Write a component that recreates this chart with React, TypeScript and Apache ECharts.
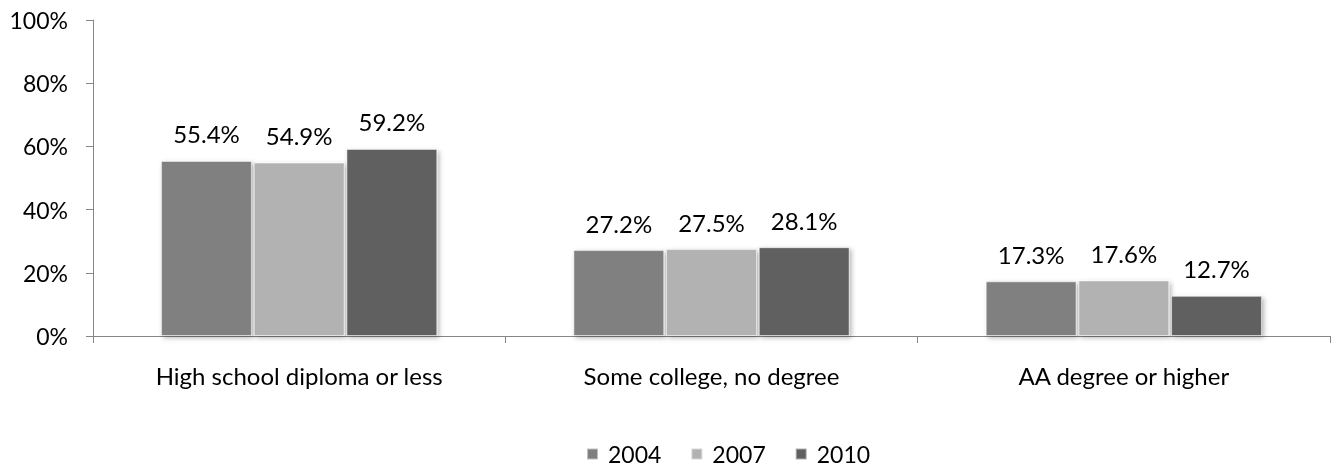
import React, { useEffect, useRef } from "react";
import * as echarts from "echarts";

const categories = ["High school diploma or less", "Some college, no degree", "AA degree or higher"];
const years = ["2004", "2007", "2010"];
const values2004 = [55.4, 27.2, 17.3];
const values2007 = [54.9, 27.5, 17.6];
const values2010 = [59.2, 28.1, 12.7];
const colors = ["#808080", "#b2b2b2", "#606060"];
const yTicks = [0, 20, 40, 60, 80, 100];

const FONT = "Lato";

export default function App() {
  const ref = useRef<HTMLDivElement>(null);
  useEffect(() => {
    if (!ref.current) return;
    const chart = echarts.init(ref.current, undefined, { renderer: "svg" });
    const seriesData = [values2004, values2007, values2010];
    chart.setOption({
      animation: false,
      textStyle: { fontFamily: FONT },
      grid: { left: 93, right: 6, top: 20, bottom: 131, containLabel: false },
      legend: {
        top: 442,
        left: 586,
        padding: 0,
        itemWidth: 11,
        itemHeight: 11,
        itemGap: 29,
        icon: "rect",
        textStyle: {
          fontFamily: FONT,
          fontSize: 23,
          lineHeight: 24,
          color: "#000",
          padding: [0, 0, 0, 5],
        },
        data: years,
      },
      xAxis: {
        type: "category",
        data: categories,
        axisLine: { lineStyle: { color: "#868686", width: 1 } },
        axisTick: { show: true, length: 7, lineStyle: { color: "#868686" } },
        axisLabel: { fontFamily: FONT, fontSize: 24, color: "#000", margin: 27 },
      },
      yAxis: {
        type: "value",
        min: 0,
        max: 100,
        interval: 20,
        axisLine: { show: true, lineStyle: { color: "#868686", width: 1 } },
        axisTick: { show: true, length: 7, lineStyle: { color: "#868686" } },
        splitLine: { show: false },
        axisLabel: {
          fontFamily: FONT,
          fontSize: 23,
          color: "#000",
          margin: 25,
          formatter: (v: number) => (yTicks.includes(v) ? v + "%" : ""),
        },
      },
      series: years.map((y, i) => ({
        name: y,
        type: "bar",
        data: seriesData[i],
        barGap: "2%",
        barCategoryGap: "33%",
        itemStyle: {
          color: colors[i],
          borderColor: "rgba(255,255,255,0.5)",
          borderWidth: 1,
          shadowBlur: 5,
          shadowColor: "rgba(0,0,0,0.3)",
          shadowOffsetX: 2,
          shadowOffsetY: 2,
        },
        label: {
          show: true,
          position: "top",
          distance: 15,
          fontFamily: FONT,
          fontSize: 24,
          color: "#000",
          formatter: (p: any) => p.value.toFixed(1) + "%",
        },
      })),
    });
    return () => chart.dispose();
  }, []);
  return <div ref={ref} style={{ position: "fixed", left: 0, top: 0, width: 1336, height: 467 }} />;
}
